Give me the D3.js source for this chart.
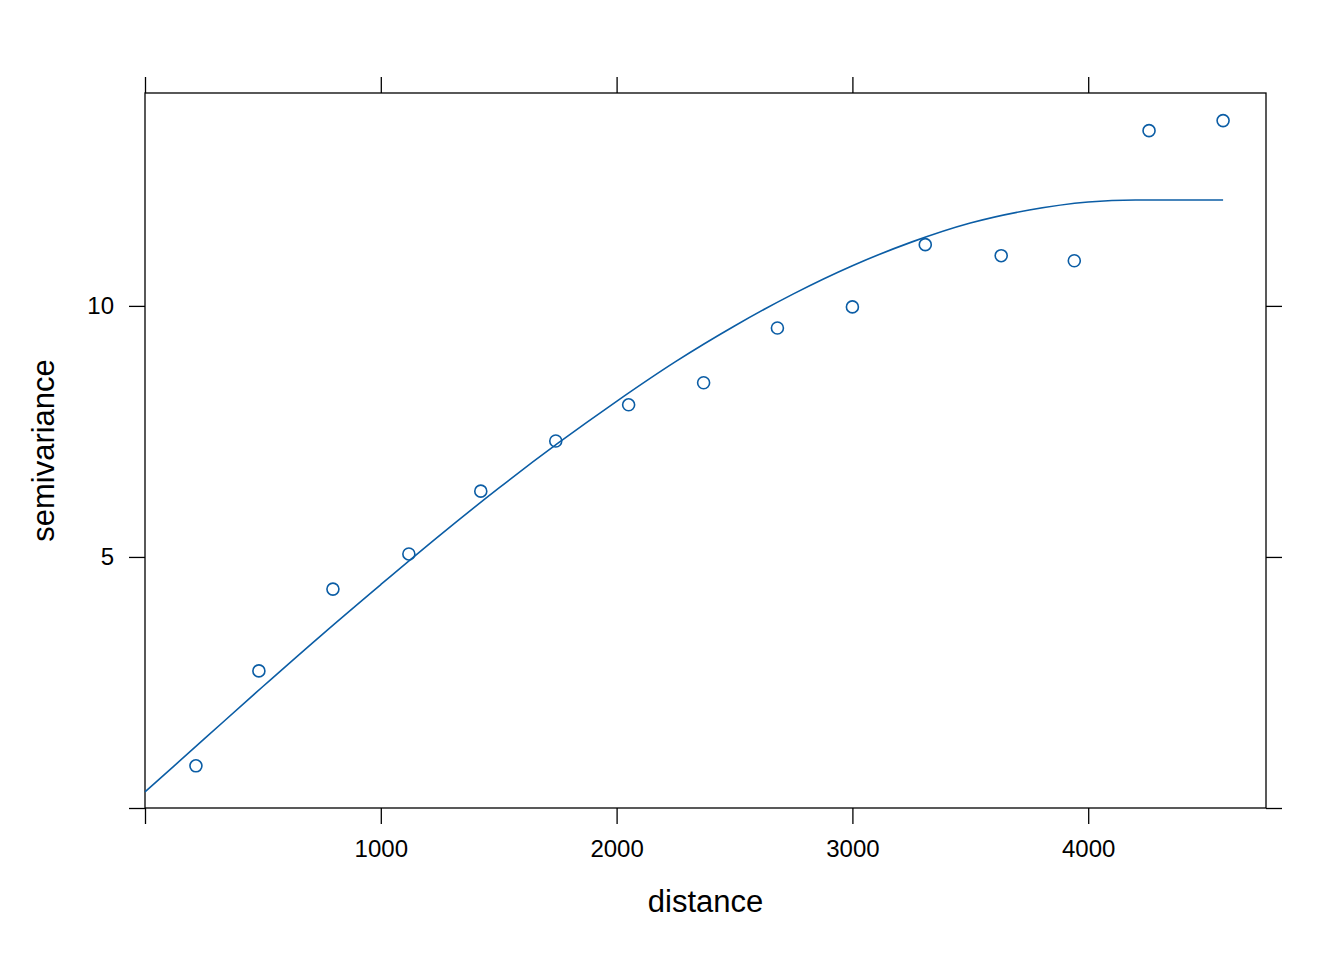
<!DOCTYPE html>
<html>
<head>
<meta charset="utf-8">
<script src="https://cdn.jsdelivr.net/npm/d3@7"></script>
<style>
html,body{margin:0;padding:0;background:#fff;}
text{font-family:"Liberation Sans",Arial,Helvetica,sans-serif;}
</style>
</head>
<body>
<svg id="chart" width="1344" height="960"></svg>
<script>
// Empirical semivariogram points
const distances = [216, 483, 797, 1119, 1424, 1742, 2051, 2369, 2682, 3000, 3309, 3631, 3941, 4258, 4572];
const gammas    = [0.84, 2.73, 4.36, 5.06, 6.31, 7.31, 8.03, 8.47, 9.56, 9.98, 11.22, 11.0, 10.90, 13.49, 13.69];
// Fitted model curve
const modelDist  = [0, 250, 500, 750, 1000, 1250, 1500, 1750, 2000, 2250, 2500, 2750, 3000, 3250, 3500, 3750, 4000, 4200, 4400, 4572];
const modelGamma = [0.32, 1.37, 2.42, 3.45, 4.45, 5.43, 6.37, 7.26, 8.10, 8.89, 9.60, 10.24, 10.80, 11.27, 11.65, 11.91, 12.07, 12.11, 12.11, 12.11];
// Ticks
const xTicks = [0, 1000, 2000, 3000, 4000];
const xTickLabels = ["", "1000", "2000", "3000", "4000"];
const yTicks = [0, 5, 10];
const yTickLabels = ["", "5", "10"];

const color = "#0B5DA5";
const L = 145, R = 1266, T = 93, B = 808;
const svg = d3.select("#chart");
const x = d3.scaleLinear().domain([0, 4754]).range([L, R]);
const y = d3.scaleLinear().domain([0, 14.24]).range([B, T]);

const tickLen = 16;
const axStyle = g => {
  g.select(".domain").remove();
  g.selectAll(".tick line").attr("stroke", "#000").attr("stroke-width", 1.3);
  g.selectAll(".tick text").attr("font-size", 24).attr("fill", "#000")
    .attr("font-family", '"Liberation Sans",Arial,sans-serif');
};
svg.append("g").attr("transform", `translate(0,${B})`)
  .call(d3.axisBottom(x).tickValues(xTicks).tickSize(tickLen).tickPadding(16)
    .tickFormat((d, i) => xTickLabels[i]))
  .call(axStyle);
svg.append("g").attr("transform", `translate(0,${T})`)
  .call(d3.axisTop(x).tickValues(xTicks).tickSize(tickLen).tickFormat(""))
  .call(axStyle);
svg.append("g").attr("transform", `translate(${L},0)`)
  .call(d3.axisLeft(y).tickValues(yTicks).tickSize(tickLen).tickPadding(15)
    .tickFormat((d, i) => yTickLabels[i]))
  .call(axStyle);
svg.append("g").attr("transform", `translate(${R},0)`)
  .call(d3.axisRight(y).tickValues(yTicks).tickSize(tickLen).tickFormat(""))
  .call(axStyle);

svg.append("rect").attr("x", L).attr("y", T).attr("width", R - L).attr("height", B - T)
  .attr("fill", "none").attr("stroke", "#000").attr("stroke-width", 1.3);

const line = d3.line().x(d => x(d[0])).y(d => y(d[1])).curve(d3.curveMonotoneX);
svg.append("path").datum(modelDist.map((d, i) => [d, modelGamma[i]]))
  .attr("d", line).attr("fill", "none").attr("stroke", color).attr("stroke-width", 1.6);

svg.append("g").selectAll("circle").data(distances).join("circle")
  .attr("cx", d => x(d)).attr("cy", (d, i) => y(gammas[i])).attr("r", 6)
  .attr("fill", "none").attr("stroke", color).attr("stroke-width", 1.6);

svg.append("text").attr("x", (L + R) / 2).attr("y", 912).attr("text-anchor", "middle")
  .attr("font-size", 31).attr("fill", "#000").text("distance");
svg.append("text").attr("transform", `translate(54,${(T + B) / 2}) rotate(-90)`)
  .attr("text-anchor", "middle").attr("font-size", 31).attr("fill", "#000").text("semivariance");
</script>
</body>
</html>
